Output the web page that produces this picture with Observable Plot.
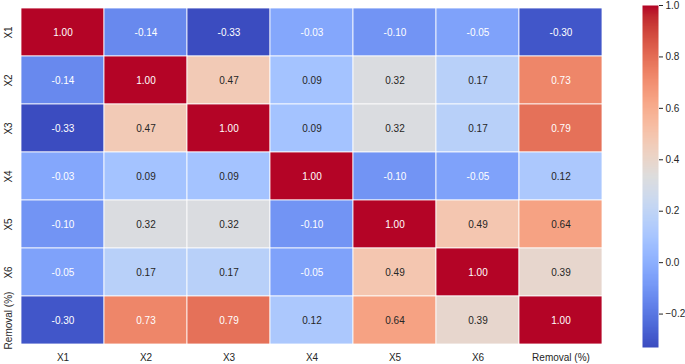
<!DOCTYPE html>
<html>
<head>
<meta charset="utf-8">
<script src="https://cdn.jsdelivr.net/npm/d3@7"></script>
<script src="https://cdn.jsdelivr.net/npm/@observablehq/plot@0.6"></script>
<style>
  html, body { margin: 0; padding: 0; background: #fff; }
  #wrap { position: relative; width: 685px; height: 364px; }
  #wrap > svg { position: absolute; left: 0; top: 0; }
</style>
</head>
<body>
<div id="wrap"></div>
<script>
const labels = ["X1", "X2", "X3", "X4", "X5", "X6", "Removal (%)"];
const rowX1  = [ 1.00, -0.14, -0.33, -0.03, -0.10, -0.05, -0.30];
const rowX2  = [-0.14,  1.00,  0.47,  0.09,  0.32,  0.17,  0.73];
const rowX3  = [-0.33,  0.47,  1.00,  0.09,  0.32,  0.17,  0.79];
const rowX4  = [-0.03,  0.09,  0.09,  1.00, -0.10, -0.05,  0.12];
const rowX5  = [-0.10,  0.32,  0.32, -0.10,  1.00,  0.49,  0.64];
const rowX6  = [-0.05,  0.17,  0.17, -0.05,  0.49,  1.00,  0.39];
const rowRem = [-0.30,  0.73,  0.79,  0.12,  0.64,  0.39,  1.00];
const colorbarTicks = [-0.2, 0.0, 0.2, 0.4, 0.6, 0.8, 1.0];
const vmin = -0.33, vmax = 1.0;

const rows = [rowX1, rowX2, rowX3, rowX4, rowX5, rowX6, rowRem];
const cells = [];
rows.forEach((r, i) => r.forEach((v, j) => cells.push({row: labels[i], col: labels[j], v})));

// matplotlib "coolwarm" (Moreland) control colours, evenly spaced
const cw = [
  [59,76,192],[68,90,204],[77,104,215],[87,117,225],[98,130,234],[108,142,241],
  [119,154,247],[130,165,251],[141,176,254],[152,185,255],[163,194,255],[174,201,253],
  [184,208,249],[194,213,244],[204,217,238],[213,219,230],[221,221,221],[229,216,209],
  [236,211,197],[241,204,185],[245,196,173],[247,187,160],[247,177,148],[247,166,135],
  [244,154,123],[241,141,111],[236,127,99],[229,112,88],[222,96,77],[213,80,66],
  [203,62,56],[192,40,47],[180,4,38]
].map(c => `rgb(${c[0]},${c[1]},${c[2]})`);
const coolwarm = d3.piecewise(d3.interpolateRgb, cw);
const colorFn = d3.scaleSequential(coolwarm).domain([vmin, vmax]);

function textColor(v) {
  const c = d3.rgb(colorFn(v));
  const lin = x => { x /= 255; return x <= 0.03928 ? x / 12.92 : Math.pow((x + 0.055) / 1.055, 2.4); };
  const lum = 0.2126 * lin(c.r) + 0.7152 * lin(c.g) + 0.0722 * lin(c.b);
  return lum > 0.408 ? "#262626" : "#ffffff";
}

const font = "'Liberation Sans', Arial, sans-serif";
const colorOpts = {type: "linear", domain: [vmin, vmax], interpolate: coolwarm};

const heat = Plot.plot({
  width: 685, height: 364,
  marginLeft: 18, marginRight: 80, marginTop: 5, marginBottom: 17,
  style: {fontFamily: font, fontSize: "10px", color: "#262626", background: "transparent"},
  x: {domain: labels, padding: 0, axis: null},
  y: {domain: labels, padding: 0, axis: null},
  color: colorOpts,
  marks: [
    Plot.cell(cells, {x: "col", y: "row", fill: "v", stroke: "white", strokeWidth: 0.8, inset: 0}),
    Plot.text(cells, {x: "col", y: "row", text: d => d.v.toFixed(2), fill: d => textColor(d.v), fontSize: 10}),
    Plot.text(labels, {x: d => d, frameAnchor: "bottom", dy: 10, textAnchor: "middle", lineAnchor: "middle", fill: "#262626", fontSize: 10}),
    Plot.text(labels, {y: d => d, frameAnchor: "left", dx: -10, rotate: -90, textAnchor: "middle", lineAnchor: "middle", fill: "#262626", fontSize: 10})
  ]
});

const bar = Plot.plot({
  width: 685, height: 364,
  marginLeft: 642, marginRight: 27, marginTop: 5, marginBottom: 17,
  style: {fontFamily: font, fontSize: "10px", color: "#262626", background: "transparent"},
  x: {domain: [0, 1], axis: null},
  y: {domain: [vmin, vmax]},
  color: colorOpts,
  marks: [
    Plot.raster({fill: (x, y) => y, x1: 0, x2: 1, y1: vmin, y2: vmax, width: 1, height: 400, imageRendering: "auto"}),
    Plot.axisY({anchor: "right", ticks: colorbarTicks, tickSize: 4, tickPadding: 3,
      tickFormat: d => d.toFixed(1).replace("-", "\u2212"), label: null, stroke: "#262626", fill: "#262626"})
  ]
});

const wrap = document.getElementById("wrap");
wrap.appendChild(heat);
wrap.appendChild(bar);
</script>
</body>
</html>
